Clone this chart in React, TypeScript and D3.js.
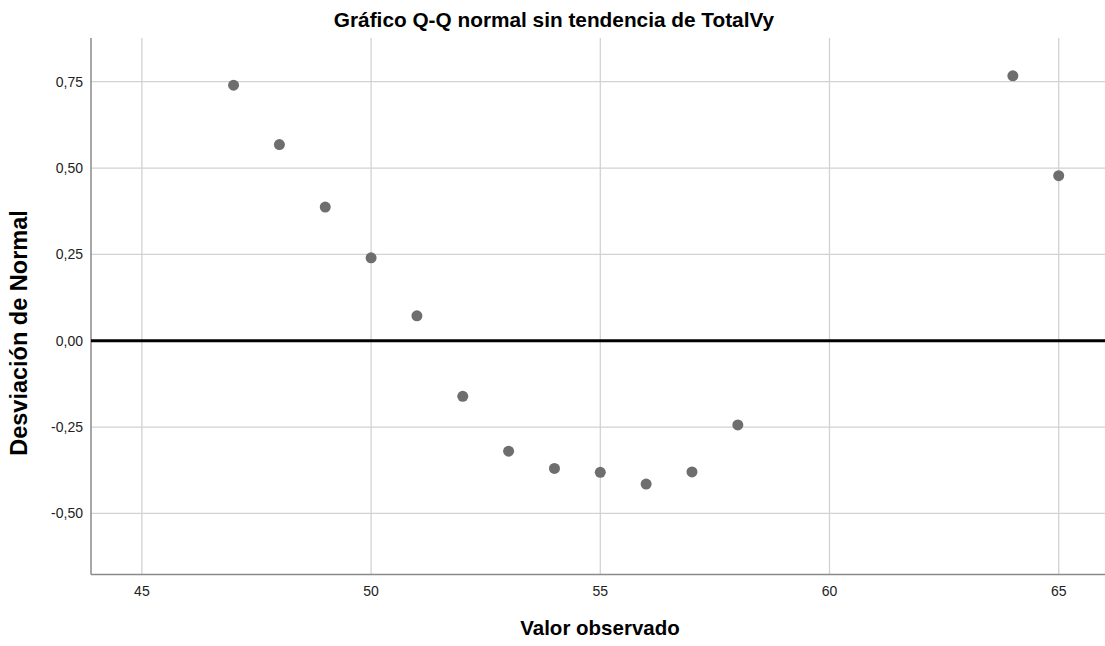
import React from "react";
import * as d3 from "d3";

const title = "Gráfico Q-Q normal sin tendencia de TotalVy";
const xLabel = "Valor observado";
const yLabel = "Desviación de Normal";
const observed = [47, 48, 49, 50, 51, 52, 53, 54, 55, 56, 57, 58, 64, 65];
const deviation = [0.740, 0.568, 0.387, 0.240, 0.072, -0.161, -0.320, -0.370, -0.381, -0.415, -0.380, -0.244, 0.767, 0.478];
const xTicks = [45, 50, 55, 60, 65];
const yTicks = [0.75, 0.5, 0.25, 0, -0.25, -0.5];

const W = 1105, H = 646;
const left = 91, right = 1105, top = 38, bottom = 574.5;

export default function App() {
  const x = d3.scaleLinear().domain([43.89, 66.01]).range([left, right]);
  const y = d3.scaleLinear().domain([-0.677, 0.8766]).range([bottom, top]);
  const fmt = (v: number) => d3.format(".2f")(v).replace(".", ",").replace("−", "-");
  const font = "'Liberation Sans', Arial, sans-serif";
  return (
    <svg width={W} height={H} style={{ position: "fixed", left: 0, top: 0, background: "#fff" }} fontFamily={font}>
      <rect x={0} y={0} width={W} height={H} fill="#fff" />
      {xTicks.map((t) => (
        <line key={"gx" + t} x1={x(t)} x2={x(t)} y1={top} y2={bottom} stroke="#d2d2d2" strokeWidth={1.3} />
      ))}
      {yTicks.filter((t) => t !== 0).map((t) => (
        <line key={"gy" + t} x1={left} x2={right} y1={y(t)} y2={y(t)} stroke="#d2d2d2" strokeWidth={1.3} />
      ))}
      <line x1={left} x2={left} y1={top} y2={bottom} stroke="#8a8a8a" strokeWidth={1.5} />
      <line x1={left} x2={right} y1={bottom} y2={bottom} stroke="#8a8a8a" strokeWidth={1.5} />
      <line x1={left} x2={right} y1={y(0)} y2={y(0)} stroke="#000" strokeWidth={3} />
      {xTicks.map((t) => (
        <text key={"tx" + t} x={x(t)} y={596} fontSize={14} textAnchor="middle" fill="#222">
          {t}
        </text>
      ))}
      {yTicks.map((t) => (
        <text key={"ty" + t} x={83} y={y(t) + 5} fontSize={14} textAnchor="end" fill="#222">
          {fmt(t)}
        </text>
      ))}
      {observed.map((v, i) => (
        <circle key={"p" + i} cx={x(v)} cy={y(deviation[i])} r={5.5} fill="#6e6e6e" />
      ))}
      <text x={554} y={27} fontSize={20.8} fontWeight="bold" textAnchor="middle" fill="#000">
        {title}
      </text>
      <text x={600} y={635} fontSize={20.5} fontWeight="bold" textAnchor="middle" fill="#000">
        {xLabel}
      </text>
      <text transform={`translate(27,333) rotate(-90)`} fontSize={23.5} fontWeight="bold" textAnchor="middle" fill="#000">
        {yLabel}
      </text>
    </svg>
  );
}
